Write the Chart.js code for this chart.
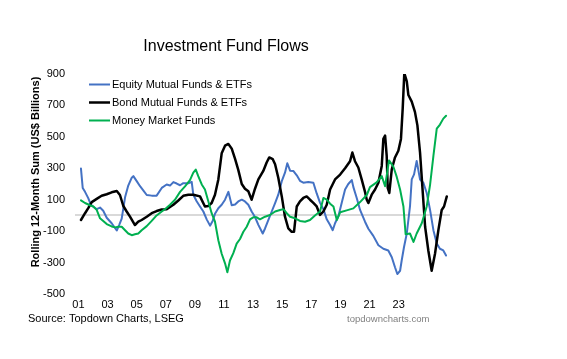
<!DOCTYPE html>
<html>
<head>
<meta charset="utf-8">
<script src="https://cdn.jsdelivr.net/npm/chart.js@4/dist/chart.umd.min.js"></script>
<style>
  html, body { margin: 0; padding: 0; background: #fff; }
  #wrap { width: 567px; height: 359px; position: relative; }
</style>
</head>
<body>
<div id="wrap"><canvas id="flows"></canvas></div>
<script>
// series: [axis year, rolling 12m sum in US$ bn]
const equityFlows = [
    [2001.17, 298], [2001.29, 175], [2001.45, 150], [2001.67, 110], [2001.84, 70], [2002.02, 55],
    [2002.25, 40], [2002.48, 50], [2002.70, 30], [2002.94, -15], [2003.28, -50], [2003.63, -96],
    [2003.80, -60], [2003.97, -20], [2004.20, 115], [2004.42, 190], [2004.66, 240], [2004.77, 250],
    [2005.00, 218], [2005.23, 186], [2005.45, 160], [2005.69, 130], [2006.03, 126], [2006.37, 126],
    [2006.72, 175], [2007.06, 197], [2007.29, 190], [2007.52, 212], [2007.75, 203], [2007.98, 192],
    [2008.20, 205], [2008.55, 205], [2008.78, 214], [2008.89, 132], [2009.12, 90], [2009.35, 57],
    [2009.58, 25], [2009.81, -25], [2010.04, -65], [2010.22, -35], [2010.38, 10], [2010.61, 46],
    [2010.84, 68], [2011.07, 100], [2011.30, 150], [2011.53, 65], [2011.76, 70], [2011.98, 89],
    [2012.22, 100], [2012.44, 89], [2012.67, 68], [2012.90, 25], [2013.13, -10], [2013.36, -60],
    [2013.66, -115], [2013.82, -83], [2014.05, -29], [2014.28, 25], [2014.51, 79], [2014.73, 132],
    [2014.97, 218], [2015.19, 272], [2015.35, 332], [2015.54, 285], [2015.76, 283], [2016.00, 255],
    [2016.22, 220], [2016.45, 208], [2016.79, 212], [2017.14, 208], [2017.37, 140], [2017.60, 80],
    [2017.83, 40], [2018.06, -25], [2018.29, -61], [2018.47, -94], [2018.63, -50], [2018.86, -5],
    [2019.09, 80], [2019.32, 165], [2019.54, 200], [2019.78, 225], [2019.89, 180], [2020.12, 111],
    [2020.35, 35], [2020.69, -40], [2020.92, -85], [2021.26, -130], [2021.61, -190], [2021.95, -212],
    [2022.29, -223], [2022.53, -266], [2022.75, -330], [2022.91, -373], [2023.10, -352], [2023.21, -287],
    [2023.37, -201], [2023.56, -115], [2023.78, 57], [2023.90, 229], [2024.06, 261], [2024.24, 347],
    [2024.47, 229], [2024.70, 208], [2024.93, 143], [2025.16, 35], [2025.39, -94], [2025.62, -179],
    [2025.84, -212], [2026.07, -223], [2026.26, -255]
];

const bondFlows = [
    [2001.17, -29], [2001.45, 14], [2001.67, 46], [2001.91, 85], [2002.25, 105], [2002.59, 125],
    [2002.94, 135], [2003.28, 147], [2003.63, 155], [2003.85, 130], [2004.08, 60], [2004.31, 25],
    [2004.54, -8], [2004.88, -61], [2005.11, -40], [2005.34, -29], [2005.69, -8], [2006.03, 14],
    [2006.37, 28], [2006.72, 38], [2007.06, 40], [2007.52, 68], [2007.86, 95], [2008.20, 125],
    [2008.55, 132], [2008.89, 132], [2009.35, 121], [2009.69, 57], [2009.92, 60], [2010.15, 79],
    [2010.38, 132], [2010.61, 229], [2010.84, 395], [2011.07, 444], [2011.30, 455], [2011.53, 425],
    [2011.76, 360], [2011.98, 290], [2012.22, 200], [2012.44, 170], [2012.67, 154], [2012.90, 100],
    [2013.13, 170], [2013.36, 229], [2013.70, 283], [2013.93, 337], [2014.11, 369], [2014.35, 358],
    [2014.51, 326], [2014.73, 240], [2014.97, 121], [2015.19, -8], [2015.42, -83], [2015.65, -104],
    [2015.81, -104], [2016.00, 57], [2016.22, 90], [2016.45, 111], [2016.68, 121], [2016.91, 100],
    [2017.14, 80], [2017.37, 57], [2017.60, 3], [2017.83, 25], [2018.06, 68], [2018.29, 165],
    [2018.63, 229], [2018.98, 260], [2019.32, 300], [2019.66, 345], [2019.82, 400], [2020.00, 345],
    [2020.23, 305], [2020.46, 229], [2020.69, 150], [2020.81, 100], [2020.92, 79], [2021.15, 132],
    [2021.38, 165], [2021.61, 208], [2021.84, 315], [2021.95, 487], [2022.07, 508], [2022.18, 379],
    [2022.25, 175], [2022.36, 143], [2022.53, 294], [2022.75, 369], [2022.98, 412], [2023.16, 487],
    [2023.28, 681], [2023.39, 906], [2023.56, 853], [2023.67, 766], [2023.90, 724], [2024.12, 659],
    [2024.29, 573], [2024.47, 401], [2024.66, 143], [2024.82, -72], [2025.04, -223], [2025.27, -352],
    [2025.50, -244], [2025.73, -94], [2025.96, 35], [2026.12, 57], [2026.31, 121]
];

const moneyMarketFlows = [
    [2001.17, 96], [2001.45, 79], [2001.79, 65], [2002.02, 57], [2002.25, 35], [2002.48, -18],
    [2002.70, -35], [2002.94, -55], [2003.28, -70], [2003.51, -76], [2003.74, -72], [2003.97, -72],
    [2004.20, -94], [2004.42, -115], [2004.66, -126], [2004.88, -120], [2005.11, -115], [2005.34, -94],
    [2005.69, -68], [2006.03, -35], [2006.37, 0], [2006.72, 25], [2006.94, 40], [2007.29, 68],
    [2007.63, 100], [2007.98, 150], [2008.32, 185], [2008.66, 225], [2008.89, 272], [2009.06, 292],
    [2009.23, 250], [2009.47, 197], [2009.69, 165], [2009.92, 90], [2010.15, 14], [2010.38, -40],
    [2010.61, -158], [2010.84, -244], [2011.07, -305], [2011.23, -362], [2011.41, -287], [2011.64, -240],
    [2011.87, -179], [2012.10, -150], [2012.33, -104], [2012.56, -72], [2012.79, -25], [2013.01, -12],
    [2013.25, -12], [2013.47, -25], [2013.82, -8], [2014.16, 3], [2014.51, 25], [2014.85, 35],
    [2015.08, 40], [2015.31, 14], [2015.54, -8], [2015.88, -18], [2016.22, -35], [2016.57, -40],
    [2016.91, -29], [2017.25, 0], [2017.60, 25], [2017.83, 111], [2018.06, 100], [2018.29, 75],
    [2018.52, 57], [2018.75, -29], [2018.98, 20], [2019.43, 32], [2019.89, 45], [2020.35, 85],
    [2020.81, 130], [2021.03, 180], [2021.49, 210], [2021.84, 250], [2022.07, 186], [2022.34, 350],
    [2022.64, 310], [2022.87, 245], [2023.10, 165], [2023.33, 57], [2023.48, -120], [2023.78, -115],
    [2024.02, -169], [2024.24, -115], [2024.59, -50], [2024.93, 57], [2025.16, 195], [2025.39, 379],
    [2025.62, 552], [2025.84, 578], [2026.07, 616], [2026.26, 634]
];

const tickYears = [2001, 2003, 2005, 2007, 2009, 2011, 2013, 2015, 2017, 2019, 2021, 2023];
const seriesNames = ['Equity Mutual Funds & ETFs', 'Bond Mutual Funds & ETFs', 'Money Market Funds'];
const seriesColors = ['#4472C4', '#000000', '#00B050'];

const FONT = '"Liberation Sans", Arial, sans-serif';

function toPoints(rows) {
    return rows.map(r => ({ x: r[0], y: r[1] }));
}

// ========================
// Text around the plot
// ========================
const decorations = {
    id: 'decorations',
    afterDraw(chart) {
        const { ctx } = chart;
        ctx.save();

        // title
        ctx.fillStyle = '#000';
        ctx.font = '16px ' + FONT;
        ctx.textAlign = 'center';
        ctx.textBaseline = 'middle';
        ctx.fillText('Investment Fund Flows', 226, 47);

        // y axis title
        ctx.save();
        ctx.translate(36, 172);
        ctx.rotate(-Math.PI / 2);
        ctx.font = 'bold 11px ' + FONT;
        ctx.fillText('Rolling 12-Month Sum (US$ Billions)', 0, 0);
        ctx.restore();

        // legend inside plot
        ctx.font = '11px ' + FONT;
        ctx.textAlign = 'left';
        const rows = [84.5, 102.5, 120.5];
        seriesNames.forEach((name, i) => {
            ctx.strokeStyle = seriesColors[i];
            ctx.lineWidth = i === 1 ? 2.5 : 2;
            ctx.beginPath();
            ctx.moveTo(89, rows[i]);
            ctx.lineTo(110, rows[i]);
            ctx.stroke();
            ctx.fillStyle = '#000';
            ctx.fillText(name, 112, rows[i]);
        });

        // footer
        ctx.font = '11px ' + FONT;
        ctx.fillText('Source: Topdown Charts, LSEG', 28, 319);
        ctx.fillStyle = '#808080';
        ctx.font = '9.5px ' + FONT;
        ctx.fillText('topdowncharts.com', 347, 319);

        ctx.restore();
    }
};

const whiteBg = {
    id: 'whiteBg',
    beforeDraw(chart) {
        const { ctx } = chart;
        ctx.save();
        ctx.fillStyle = '#fff';
        ctx.fillRect(0, 0, chart.width, chart.height);
        ctx.restore();
    }
};

new Chart(document.getElementById('flows'), {
    type: 'line',
    data: {
        datasets: [
            { label: seriesNames[0], data: toPoints(equityFlows), borderColor: seriesColors[0], borderWidth: 2, order: 3 },
            { label: seriesNames[1], data: toPoints(bondFlows), borderColor: seriesColors[1], borderWidth: 2.5, order: 2 },
            { label: seriesNames[2], data: toPoints(moneyMarketFlows), borderColor: seriesColors[2], borderWidth: 2, order: 1 }
        ]
    },
    options: {
        responsive: true,
        maintainAspectRatio: false,
        animation: false,
        parsing: false,
        elements: {
            point: { radius: 0 },
            line: { tension: 0, borderJoinStyle: 'round', borderCapStyle: 'round' }
        },
        layout: { padding: { left: 0, top: 74, right: 117, bottom: 45 } },
        plugins: {
            legend: { display: false },
            tooltip: { enabled: false }
        },
        scales: {
            x: {
                type: 'linear',
                min: 2000.76,
                max: 2026.53,
                afterBuildTicks: scale => { scale.ticks = tickYears.map(v => ({ value: v })); },
                afterFit: scale => { scale.height = 20; },
                ticks: {
                    autoSkip: false,
                    maxRotation: 0,
                    padding: 4,
                    color: '#000',
                    font: { family: FONT, size: 11 },
                    callback: v => String(v).slice(2)
                },
                grid: { display: false, drawTicks: false },
                border: { display: false }
            },
            y: {
                min: -500,
                max: 900,
                afterBuildTicks: scale => {
                    const t = [];
                    for (let v = -500; v <= 900; v += 200) t.push({ value: v });
                    t.push({ value: 0 });
                    scale.ticks = t;
                },
                afterFit: scale => { scale.width = 75; },
                ticks: {
                    padding: 10,
                    color: '#000',
                    font: { family: FONT, size: 11 },
                    callback: v => (v === 0 ? '' : v)
                },
                grid: {
                    drawTicks: false,
                    color: ctx => (ctx.tick && ctx.tick.value === 0 ? '#d9d9d9' : 'rgba(0,0,0,0)'),
                    lineWidth: ctx => (ctx.tick && ctx.tick.value === 0 ? 2 : 0)
                },
                border: { display: false }
            }
        }
    },
    plugins: [whiteBg, decorations]
});
</script>
</body>
</html>
